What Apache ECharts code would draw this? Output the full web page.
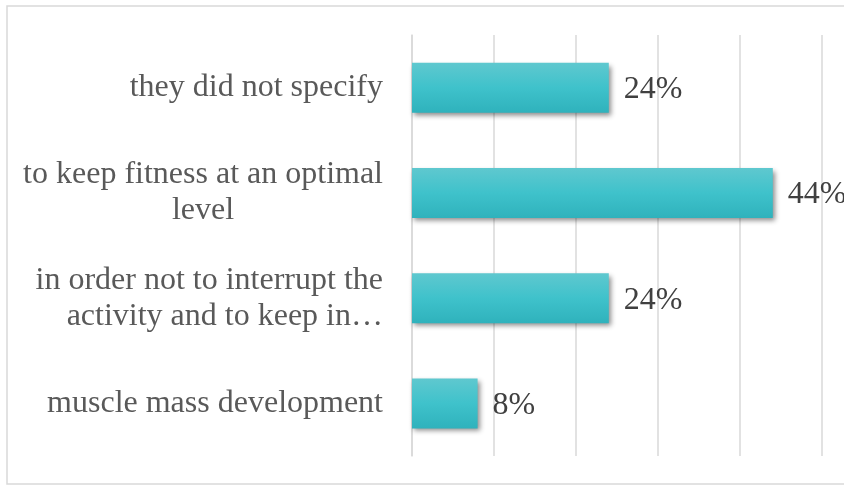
<!DOCTYPE html>
<html>
<head>
<meta charset="utf-8">
<script src="https://cdn.jsdelivr.net/npm/echarts@6/dist/echarts.min.js"></script>
<style>
  html, body { margin: 0; padding: 0; background: #ffffff; }
  #chart { width: 844px; height: 485px; }
</style>
</head>
<body>
<div id="chart"></div>
<script>
// Reasons given, listed bottom to top as the category axis draws them
const categories = [
  'muscle mass development',
  'in order not to interrupt the\nactivity and to keep in…',
  'to keep fitness at an optimal\nlevel',
  'they did not specify'
];
const shares = [8, 24, 44, 24];
const axisTicks = [0, 10, 20, 30, 40, 50];

const chart = echarts.init(document.getElementById('chart'), null, { renderer: 'canvas' });

const serif = '"Liberation Serif", "Times New Roman", serif';
const labelFont = { fontFamily: serif, fontSize: 32, lineHeight: 36, color: '#595959' };

chart.setOption({
  animation: false,
  backgroundColor: '#ffffff',
  graphic: [{
    type: 'rect',
    shape: { x: 7, y: 6, width: 845, height: 478 },
    style: { fill: 'none', stroke: '#d9d9d9', lineWidth: 1.5 },
    silent: true
  }],
  grid: { left: 412, right: 22, top: 35, bottom: 29, containLabel: false },
  xAxis: {
    type: 'value',
    min: axisTicks[0],
    max: axisTicks[axisTicks.length - 1],
    interval: axisTicks[1] - axisTicks[0],
    axisLine: { show: false },
    axisTick: { show: false },
    axisLabel: { show: false },
    splitLine: { show: true, lineStyle: { color: '#d9d9d9', width: 1.5 } }
  },
  yAxis: {
    type: 'category',
    data: categories,
    axisLine: { show: true, lineStyle: { color: '#d9d9d9', width: 1.5 } },
    axisTick: { show: false },
    axisLabel: {
      margin: 29,
      // wrapped lines are centred under the first; a truncated line keeps to the right
      formatter: function (v) {
        return v.split('\n').map(function (l) {
          return (l.endsWith('…') ? '{r|' : '{c|') + l + '}';
        }).join('\n');
      },
      rich: {
        c: Object.assign({ align: 'center' }, labelFont),
        r: Object.assign({ align: 'right' }, labelFont)
      }
    }
  },
  series: [{
    type: 'bar',
    data: shares,
    barWidth: 50,
    itemStyle: {
      color: new echarts.graphic.LinearGradient(0, 0, 0, 1, [
        { offset: 0, color: '#5fc8cf' },
        { offset: 0.5, color: '#3fc2cb' },
        { offset: 1, color: '#2fb2bc' }
      ]),
      shadowColor: 'rgba(0,0,0,0.45)',
      shadowBlur: 5,
      shadowOffsetX: 2,
      shadowOffsetY: 3
    },
    label: {
      show: true,
      position: 'right',
      distance: 15,
      offset: [0, 2],
      formatter: '{c}%',
      fontFamily: serif,
      fontSize: 32,
      color: '#404040'
    }
  }]
});
</script>
</body>
</html>
